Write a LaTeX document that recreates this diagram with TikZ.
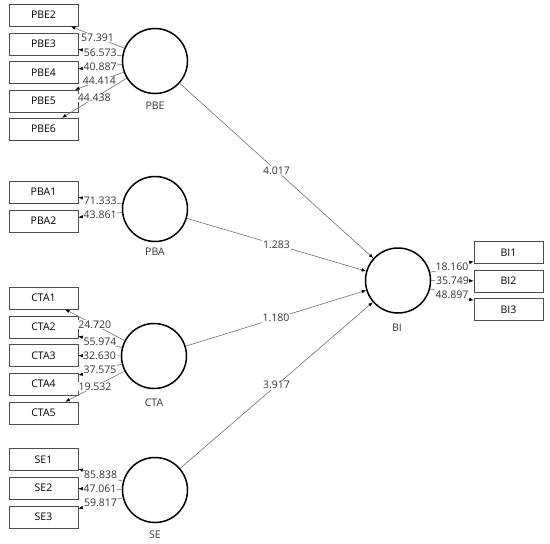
\documentclass[tikz,border=0pt]{standalone}
\usepackage{fontspec}
\setmainfont{Open Sans}
\usetikzlibrary{positioning, shapes}
\usetikzlibrary{arrows.meta}

\begin{document}
\begin{tikzpicture}[x=1pt,y=-1pt]
    \tikzset{item/.style = {draw=black!70, line width=0.6pt, minimum width=69pt, minimum height=22pt, inner sep=0pt, font=\fontsize{10.5}{12}\selectfont}}
    \tikzset{latent/.style = {circle, draw, line width=1.5pt, minimum size=65pt, inner sep=0pt}}
    \tikzset{edge/.style = {draw=black!60, line width=0.55pt, -{Latex[length=4.5pt,width=3.5pt,color=black]}}}
    \tikzset{val/.style = {fill=white, inner sep=0.6pt, text=black!80, font=\fontsize{10.5}{12}\selectfont}}
    \tikzset{caption/.style = {text=black!80, font=\fontsize{10.5}{12}\selectfont}}

    \useasboundingbox (0,0) rectangle (550,544);

    % PBE block
    \node[item] (PBE2) at (43.5,15) {PBE2};
    \node[item] (PBE3) at (43.5,44) {PBE3};
    \node[item] (PBE4) at (43.5,72.5) {PBE4};
    \node[item] (PBE5) at (43.5,101) {PBE5};
    \node[item] (PBE6) at (43.5,129) {PBE6};
    \node[latent] (PBE) at (155,61) {};
    \node[caption] (PBEname) at (155,106) {PBE};
    \draw[edge] (PBE) -- node[val] {57.391} (PBE2);
    \draw[edge] (PBE) -- node[val] {56.573} (PBE3);
    \draw[edge] (PBE) -- node[val] {40.887} (PBE4);
    \draw[edge] (PBE) -- node[val] {44.414} (PBE5);
    \draw[edge] (PBE) -- node[val] {44.438} (PBE6);

    % PBA block
    \node[item] (PBA1) at (43.5,192) {PBA1};
    \node[item] (PBA2) at (43.5,221) {PBA2};
    \node[latent] (PBA) at (155,209) {};
    \node[caption] (PBAname) at (155,252) {PBA};
    \draw[edge] (PBA) -- node[val] {71.333} (PBA1);
    \draw[edge] (PBA) -- node[val] {43.861} (PBA2);

    % CTA block
    \node[item] (CTA1) at (43.5,298) {CTA1};
    \node[item] (CTA2) at (43.5,327) {CTA2};
    \node[item] (CTA3) at (43.5,355.5) {CTA3};
    \node[item] (CTA4) at (43.5,384) {CTA4};
    \node[item] (CTA5) at (43.5,413) {CTA5};
    \node[latent] (CTA) at (154,356) {};
    \node[caption] (CTAname) at (154,403) {CTA};
    \draw[edge] (CTA) -- node[val] {24.720} (CTA1);
    \draw[edge] (CTA) -- node[val] {55.974} (CTA2);
    \draw[edge] (CTA) -- node[val] {32.630} (CTA3);
    \draw[edge] (CTA) -- node[val] {37.575} (CTA4);
    \draw[edge] (CTA) -- node[val] {19.532} (CTA5);

    % SE block
    \node[item] (SE1) at (43.5,459.5) {SE1};
    \node[item] (SE2) at (43.5,488) {SE2};
    \node[item] (SE3) at (43.5,517) {SE3};
    \node[latent] (SE) at (155,490) {};
    \node[caption] (SEname) at (155,535) {SE};
    \draw[edge] (SE) -- node[val] {85.838} (SE1);
    \draw[edge] (SE) -- node[val] {47.061} (SE2);
    \draw[edge] (SE) -- node[val] {59.817} (SE3);

    % BI block
    \node[item] (BI1) at (508.5,252.5) {BI1};
    \node[item] (BI2) at (508.5,281) {BI2};
    \node[item] (BI3) at (508.5,309.5) {BI3};
    \node[latent] (BI) at (398,280.5) {};
    \node[caption] (BIname) at (397,328) {BI};
    \draw[edge] (BI) -- node[val] {18.160} (BI1);
    \draw[edge] (BI) -- node[val] {35.749} (BI2);
    \draw[edge] (BI) -- node[val] {48.897} (BI3);

    % paths to BI
    \draw[edge] (PBE) -- node[val] {4.017} (BI);
    \draw[edge] (PBA) -- node[val] {1.283} (BI);
    \draw[edge] (CTA) -- node[val] {1.180} (BI);
    \draw[edge] (SE) -- node[val] {3.917} (BI);
\end{tikzpicture}
\end{document}
